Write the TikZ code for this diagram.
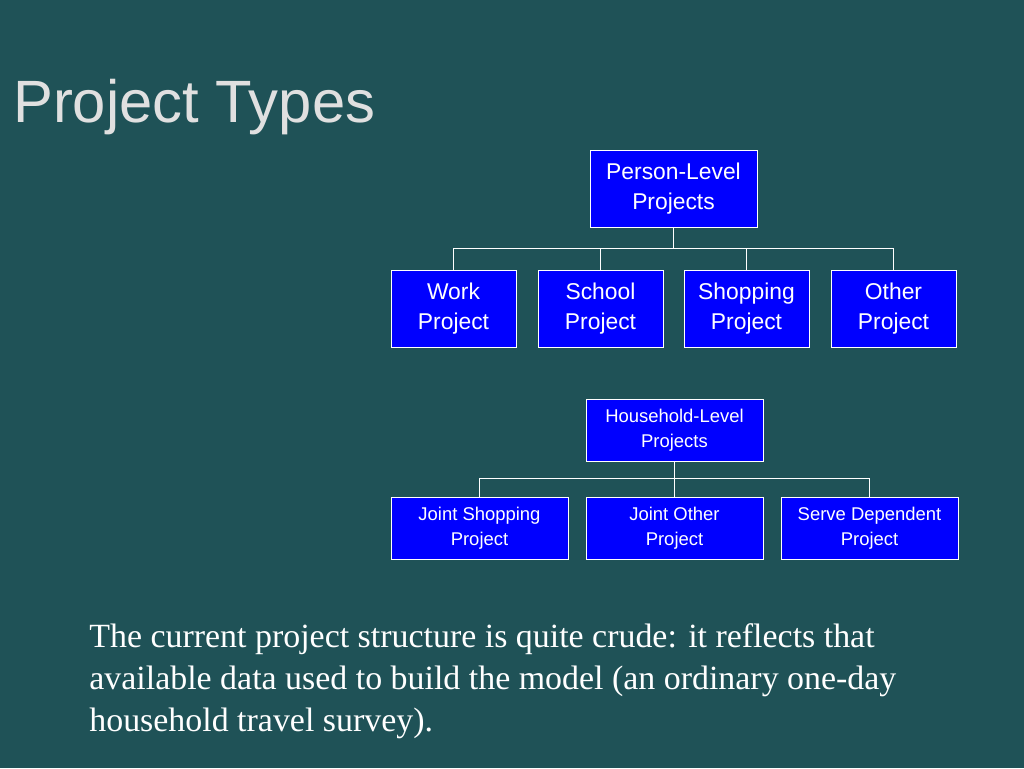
\documentclass[tikz,border=0pt]{standalone}
\usepackage{fontspec}
\setmainfont{Liberation Serif}
\setsansfont{Liberation Sans}
\definecolor{slidebg}{HTML}{1F5257}
\definecolor{boxblue}{HTML}{0000FF}
\tikzset{
  projbox/.style={draw=white, fill=boxblue, text=white, font=\sffamily\fontsize{13}{17}\selectfont,
    align=center, minimum width=2.5cm, minimum height=1.54cm, inner sep=1pt},
  hhbox/.style={projbox, font=\sffamily\fontsize{10.5}{14}\selectfont, minimum width=3.54cm, minimum height=1.24cm},
  link/.style={draw=white, thin}
}
\begin{document}
\begin{tikzpicture}[x=0.02cm, y=-0.02cm]
  \fill[slidebg] (0,0) rectangle (1024,768);
  \useasboundingbox (0,0) rectangle (1024,768);
  \node[anchor=base west, text=white!88!black, font=\sffamily\fontsize{34}{40}\selectfont] (title) at (7,122) {Project Types};
  % person level
  \node[projbox, minimum width=3.34cm] (person) at (673.5,189) {Person-Level\\Projects};
  \node[projbox] (work) at (453.5,309) {Work\\Project};
  \node[projbox] (school) at (600.5,309) {School\\Project};
  \node[projbox] (shop) at (746.5,309) {Shopping\\Project};
  \node[projbox] (other) at (893.5,309) {Other\\Project};
  \coordinate (pbar) at (673.5,248);
  \foreach \c in {work,school,shop,other}
    \draw[link] (person.south) |- (pbar) -| (\c.north);
  % household level
  \node[hhbox] (house) at (674.5,430) {Household-Level\\Projects};
  \node[hhbox] (jshop) at (479.5,528) {Joint Shopping\\Project};
  \node[hhbox] (jother) at (674.5,528) {Joint Other\\Project};
  \node[hhbox] (serve) at (869.5,528) {Serve Dependent\\Project};
  \coordinate (hbar) at (674.5,478);
  \foreach \c in {jshop,jother,serve}
    \draw[link] (house.south) |- (hbar) -| (\c.north);
  \node[anchor=north west, text=white, align=left, font=\fontsize{19.3}{24}\selectfont, inner sep=0pt] (note) at (89,623)
    {The current project structure is quite crude: it reflects that\\available data used to build the model (an ordinary one-day\\household travel survey).};
\end{tikzpicture}
\end{document}
